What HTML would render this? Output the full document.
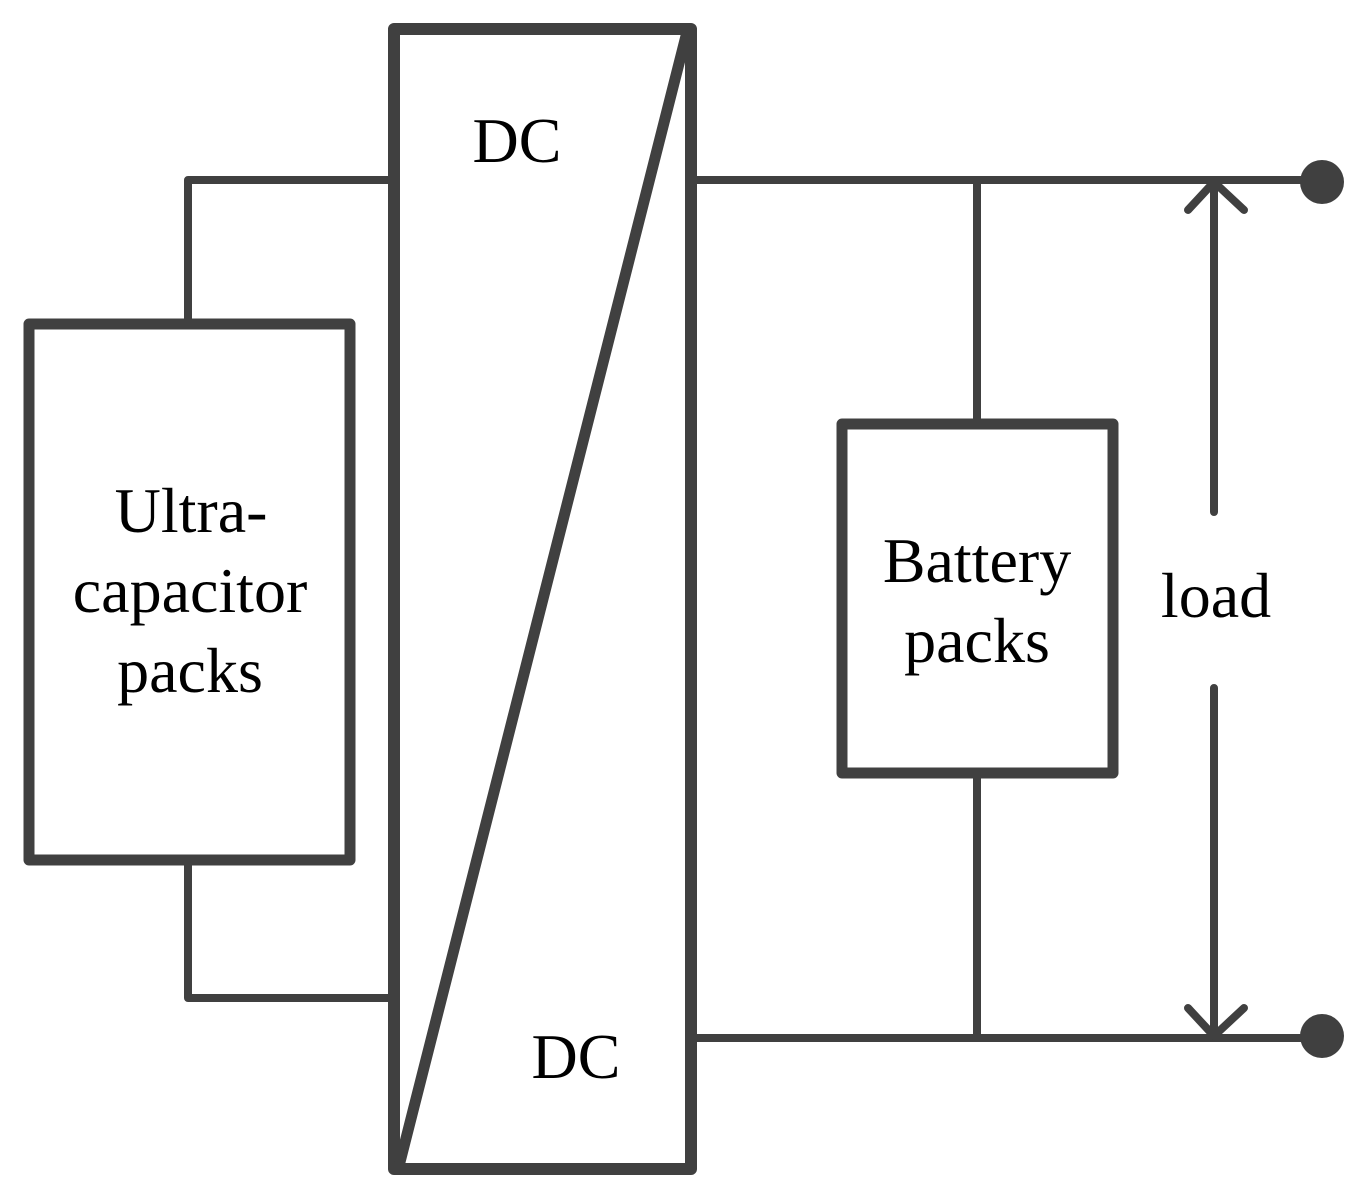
<!DOCTYPE html>
<html><head><style>body{margin:0;background:#fff}svg{display:block}</style></head><body>
<svg width="1363" height="1198" viewBox="0 0 1363 1198" xmlns="http://www.w3.org/2000/svg">
<g stroke="#404040" fill="none" stroke-linejoin="round" stroke-linecap="round">
<path d="M388 180H188V322M188 862V998H388" stroke-width="8" stroke-linecap="butt"/>
<path d="M697 180H1322M697 1038H1322M977 180V422M977 775V1038" stroke-width="8" stroke-linecap="butt"/>
<path d="M1214 182V512M1214 688V1036M1188 210L1214 182L1244 210M1188 1008L1214 1036L1244 1008" stroke-width="8"/>
<rect x="394" y="29" width="297" height="1140" stroke-width="12"/>
<path d="M686 36L400 1162" stroke-width="11"/>
<rect x="29" y="324" width="321" height="536" stroke-width="11"/>
<rect x="842" y="424" width="271" height="349" stroke-width="11"/>
</g>
<circle cx="1322" cy="182" r="22" fill="#404040"/>
<circle cx="1322" cy="1036" r="22" fill="#404040"/>
<g font-family="Liberation Serif, serif" font-size="64" fill="#000" text-anchor="middle">
<text x="517" y="162">DC</text>
<text x="576" y="1078">DC</text>
<text x="191" y="532">Ultra-</text>
<text x="190" y="612">capacitor</text>
<text x="190" y="692">packs</text>
<text x="977" y="582">Battery</text>
<text x="977" y="662">packs</text>
<text x="1216" y="617">load</text>
</g>
</svg>
</body></html>
